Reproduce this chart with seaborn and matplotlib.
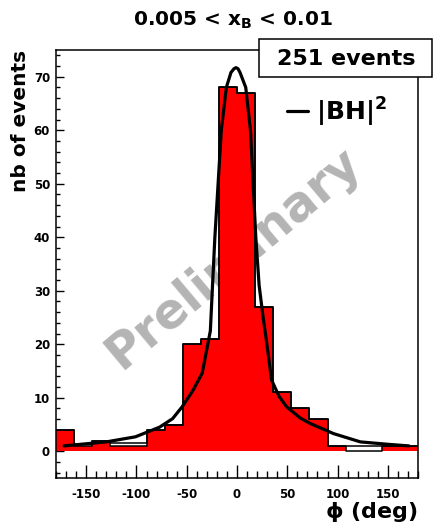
import numpy as np
import pandas as pd
import matplotlib
matplotlib.use("Agg")
import matplotlib.pyplot as plt
import seaborn as sns
from matplotlib.patches import Rectangle
from matplotlib.ticker import MultipleLocator

# ---------------- data ----------------
bin_edges = list(range(-180, 181, 18))
red_counts = [4, 1, 2, 1, 1, 4, 5, 20, 21, 68, 67, 27, 11, 8, 6, 1, 0, 0, 1, 1]
line_counts = [4, 1.4, 2, 1.5, 1.5, 4, 5, 20, 21, 68, 67, 27, 11, 8, 6, 1, 1, 1, 1, 1]

bh_phi = [-172, -150, -130, -101, -77, -64, -54.6, -44, -34.6, -26.5, -24.6, -22,
          -15.6, -10.6, -6, -3, -1, 1, 3, 8.7, 13.4, 18.7, 22, 26, 29.4, 34.4, 42, 49.4,
          63, 72.7, 96, 122.7, 150, 171]
bh_val = [1.0, 1.4, 1.75, 2.7, 4.5, 6.1, 8.3, 11.3, 14.6, 22.5, 30, 40,
          60, 68, 70.8, 71.5, 71.7, 71.5, 70.8, 68, 60, 40, 31, 25, 20.5, 13.3, 10.2, 8.3,
          6.2, 5.2, 3.3, 1.75, 1.3, 1.0]

title_text = "0.005 < $x_B$ < 0.01"
events_text = "251 events"
legend_label = "|BH|$^2$"
watermark = "Preliminary"
x_ticks = [-150, -100, -50, 0, 50, 100, 150]
y_ticks = [0, 10, 20, 30, 40, 50, 60, 70]

centers = [(a + b) / 2 for a, b in zip(bin_edges[:-1], bin_edges[1:])]
df = pd.DataFrame({"phi": centers, "red": red_counts, "line": line_counts})
curve = pd.DataFrame({"phi": bh_phi, "val": bh_val})

# ---------------- style ----------------
sns.set_theme(style="white")
plt.rcParams["font.family"] = ["DejaVu Sans"]
plt.rcParams["font.weight"] = "bold"
plt.rcParams["mathtext.default"] = "bf"
plt.rcParams["mathtext.fontset"] = "dejavusans"
plt.rcParams["axes.unicode_minus"] = False
for k in ["text.color", "axes.labelcolor", "xtick.color", "ytick.color",
          "axes.edgecolor"]:
    plt.rcParams[k] = "black"

W, H = 437, 527
fig = plt.figure(figsize=(W / 100, H / 100), dpi=100)
fx = lambda px: px / W
fy = lambda py: 1 - py / H
ax = fig.add_axes([fx(56), fy(478), (418 - 56) / W, (478 - 50) / H])
ax.set_facecolor("white")

# watermark behind histogram
ax.text(fx(233), fy(258), watermark, transform=fig.transFigure, rotation=40,
        rotation_mode="anchor", ha="center", va="center", fontsize=35,
        fontweight="bold", color="#b4b4b4", zorder=0.5, clip_on=False)

# red filled histogram
sns.histplot(data=df, x="phi", weights="red", bins=bin_edges, element="step",
             fill=True, color="#ff0000", alpha=1, linewidth=0, ax=ax, zorder=1)
# outlines
sns.histplot(data=df, x="phi", weights="red", bins=bin_edges, element="step",
             fill=False, color="black", linewidth=1.1, ax=ax, zorder=2)
sns.histplot(data=df, x="phi", weights="line", bins=bin_edges, element="step",
             fill=False, color="black", linewidth=1.1, ax=ax, zorder=2)

# |BH|^2 curve
sns.lineplot(data=curve, x="phi", y="val", color="black", linewidth=2.3,
             sort=False, label=legend_label, ax=ax, zorder=3)

ax.set_xlim(-180, 180)
ax.set_ylim(-5, 75)
ax.set_xticks(x_ticks)
ax.set_yticks(y_ticks)
ax.xaxis.set_minor_locator(MultipleLocator(10))
ax.yaxis.set_minor_locator(MultipleLocator(2))
ax.tick_params(axis="x", which="major", direction="in", length=9.4, width=1.0,
               pad=7, labelsize=8.5, bottom=True, top=False, color="black",
               labelcolor="black")
ax.tick_params(axis="x", which="minor", direction="in", length=4.7, width=1.0,
               bottom=True, top=False, color="black")
ax.tick_params(axis="y", which="major", direction="in", length=6, width=1.0,
               pad=4.3, labelsize=8.5, left=True, right=False, color="black",
               labelcolor="black")
ax.tick_params(axis="y", which="minor", direction="in", length=3, width=1.0,
               left=True, right=False, color="black")
for s in ax.spines.values():
    s.set_color("black")
    s.set_linewidth(1.1)

ax.set_ylabel("nb of events", fontsize=14.5, fontweight="bold", loc="top",
              color="black")
ax.yaxis.set_label_coords(-0.072, 1.0)
ax.set_xlabel(r"$\mathrm{\phi}$ (deg)", fontsize=16, fontweight="bold",
              loc="right", color="black")
ax.xaxis.set_label_coords(1.0, -0.052)

leg = ax.legend(loc="center left", bbox_to_anchor=(fx(287), fy(112)),
                bbox_transform=fig.transFigure, frameon=False,
                prop={"weight": "bold", "size": 18}, handlelength=0.85,
                handletextpad=0.3, borderpad=0, borderaxespad=0,
                labelcolor="black")

# title
fig.text(fx(233), fy(26), title_text, ha="center", va="baseline",
         fontsize=14.5, fontweight="bold", color="black")

# events box
rect = Rectangle((fx(259), fy(77)), (432 - 259) / W, (77 - 39) / H,
                 transform=fig.transFigure, facecolor="white",
                 edgecolor="black", linewidth=1.1, zorder=5)
fig.add_artist(rect)
fig.text(fx(346), fy(65), events_text, ha="center", va="baseline",
         fontsize=16, fontweight="bold", zorder=6, color="black")

fig.savefig("out.png", dpi=100)
